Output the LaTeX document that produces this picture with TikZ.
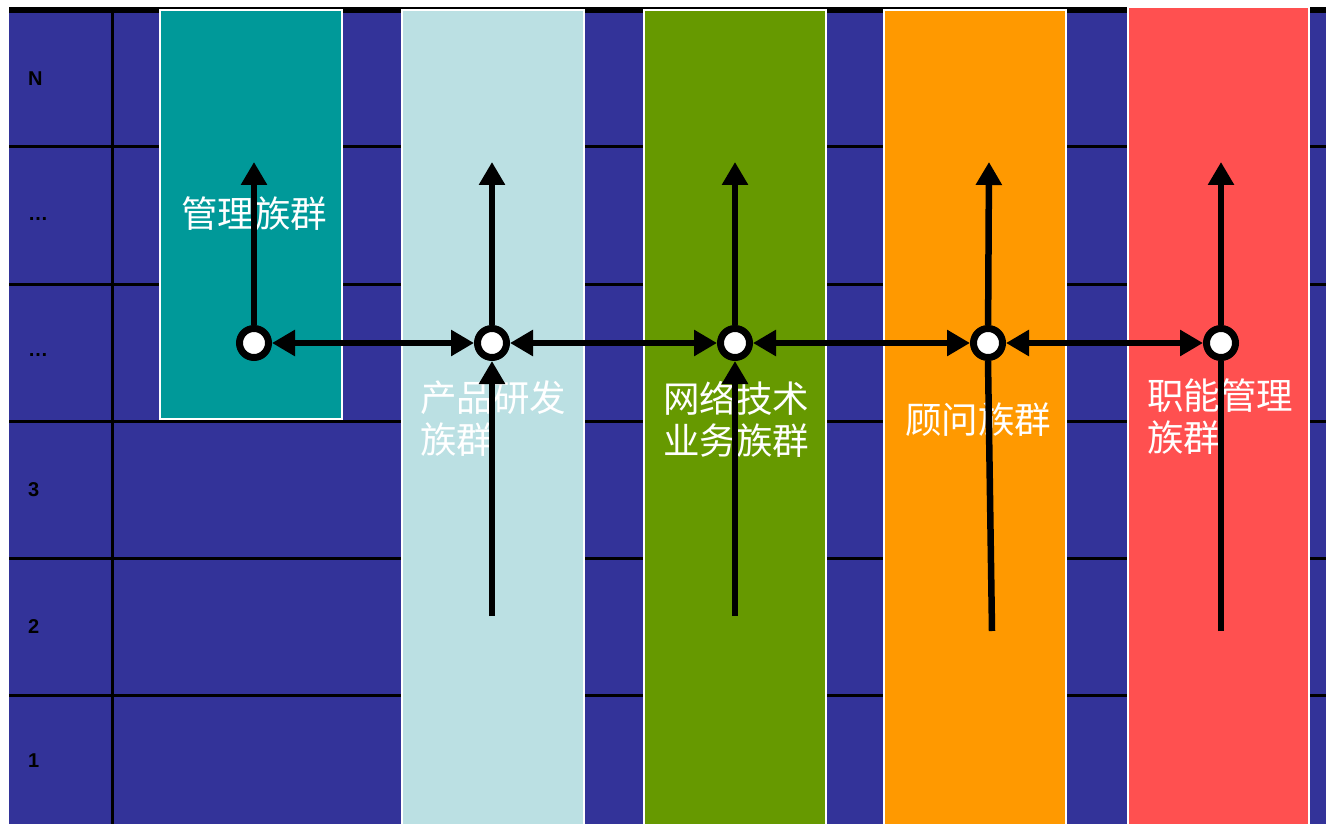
\documentclass[tikz,border=0pt]{standalone}
\usepackage{fontspec}
\setmainfont{Liberation Sans}
\newfontfamily\cjk{Noto Sans CJK SC}
\usetikzlibrary{arrows.meta}
\definecolor{bgblue}{HTML}{333399}
\definecolor{cteal}{HTML}{009999}
\definecolor{clight}{HTML}{BBE0E3}
\definecolor{cgreen}{HTML}{669900}
\definecolor{corange}{HTML}{FF9900}
\definecolor{cred}{HTML}{FF5050}
\tikzset{
  gridline/.style={line width=3pt,black},
  colbox/.style={draw=white,line width=1.5pt},
  rowlab/.style={font=\fontsize{20}{24}\selectfont\bfseries,text=black,anchor=west,inner sep=0pt},
  grouplab/.style={font=\cjk\fontsize{36.5}{42}\selectfont,text=white,inner sep=0pt,align=left},
  hub/.style={circle,draw=black,fill=white,line width=7pt,minimum size=29pt,inner sep=0pt},
  arr/.style={line width=6.5pt,black,-{Triangle[width=25pt,length=23pt]}},
  darr/.style={line width=6.5pt,black,{Triangle[width=25pt,length=23pt]}-{Triangle[width=25pt,length=23pt]}},
  plain/.style={line width=6.5pt,black}
}
\begin{document}
\begin{tikzpicture}[x=1pt,y=-1pt]
\useasboundingbox (0,0) rectangle (1326,824);
\fill[white] (0,0) rectangle (1326,824);
% background table
\fill[bgblue] (9,13) rectangle (1326,824);
\fill[black] (9,7) rectangle (1326,13);
\foreach \y in {147,284,421,558,695} \draw[gridline] (9,\y) -- (1326,\y);
\draw[gridline] (112,13) -- (112,824);
% row labels
\node[rowlab] (rN) at (28,79) {N};
\node[rowlab] (r5) at (28,219) {…};
\node[rowlab] (r4) at (28,355) {…};
\node[rowlab] (r3) at (28,490) {3};
\node[rowlab] (r2) at (28,627) {2};
\node[rowlab] (r1) at (28,761) {1};
% columns
\draw[colbox,fill=cteal] (160,10) rectangle (342,419);
\draw[colbox,fill=clight] (402,10) rectangle (584,826);
\draw[colbox,fill=cgreen] (644,10) rectangle (826,826);
\draw[colbox,fill=corange] (884,10) rectangle (1066,826);
\draw[colbox,fill=cred] (1128,7) rectangle (1309,826);
% labels
\node[grouplab] (g1) at (254,214) {管理族群};
\node[grouplab,anchor=west] (g2) at (420,419) {产品研发\\族群};
\node[grouplab,anchor=west] (g3) at (663,419) {网络技术\\业务族群};
\node[grouplab] (g4) at (978,420) {顾问族群};
\node[grouplab,anchor=west] (g5) at (1147,417) {职能管理\\族群};
% hubs
\node[hub] (c1) at (254,343) {};
\node[hub] (c2) at (492,343) {};
\node[hub] (c3) at (735,343) {};
\node[hub] (c4) at (988,343) {};
\node[hub] (c5) at (1221,343) {};
% tops and bottoms
\coordinate (t1) at (254,162);
\coordinate (t2) at (492,162);
\coordinate (t3) at (735,162);
\coordinate (t4) at (989,162);
\coordinate (t5) at (1221,162);
\coordinate (b2) at (492,616);
\coordinate (b3) at (735,616);
\coordinate (b4) at (992,631);
\coordinate (b5) at (1221,631);
\foreach \i in {1,...,5} \draw[arr] (c\i) -- (t\i);
\draw[arr] (b2) -- (c2);
\draw[arr] (b3) -- (c3);
\draw[plain] (b4) -- (c4.south);
\draw[plain] (b5) -- (c5.south);
\draw[darr] (c1) -- (c2);
\draw[darr] (c2) -- (c3);
\draw[darr] (c3) -- (c4);
\draw[darr] (c4) -- (c5);
\end{tikzpicture}
\end{document}
